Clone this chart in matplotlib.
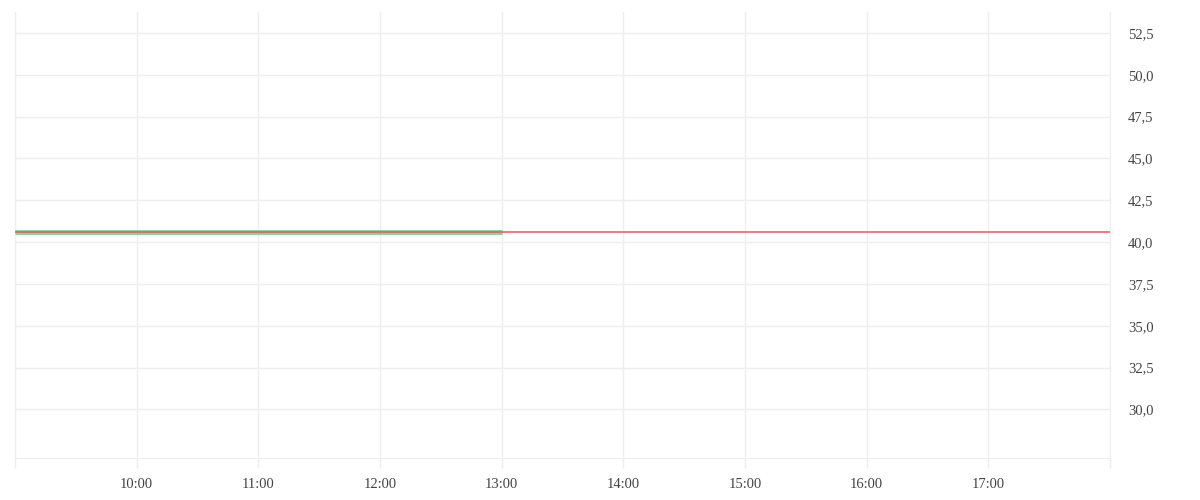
import datetime as dt

import matplotlib
matplotlib.use('Agg')
import matplotlib.dates as mdates
import matplotlib.pyplot as plt
from matplotlib.ticker import FuncFormatter

# intraday prices (flat session so far) and previous close
times = ['09:00', '10:00', '11:00', '12:00', '13:00']
prices = [40.6, 40.6, 40.6, 40.6, 40.6]
prev_close = 40.6
session = ['09:00', '18:00']
y_ticks = [30.0, 32.5, 35.0, 37.5, 40.0, 42.5, 45.0, 47.5, 50.0, 52.5]
x_ticks = ['09:00', '10:00', '11:00', '12:00', '13:00', '14:00', '15:00', '16:00', '17:00', '18:00']


def to_dt(s):
    h, m = s.split(':')
    return dt.datetime(2024, 1, 2, int(h), int(m))


plt.rcParams['font.family'] = ['Liberation Serif', 'DejaVu Serif']
grid_col = '#eeeeee'
text_col = '#444444'

fig = plt.figure(figsize=(12, 5), dpi=100)
ax = fig.add_axes([15 / 1200, 42 / 500, 1095 / 1200, 446 / 500])

ax.plot([to_dt(t) for t in times], prices, color='#62c77a', alpha=0.75, linewidth=3.6,
        solid_capstyle='butt', zorder=3)
ax.axhline(prev_close, color='#f2535c', linewidth=1.1, zorder=4)

ax.set_xlim(to_dt(session[0]), to_dt(session[1]))
ax.set_ylim(27.1, 53.75)

ax.set_xticks([to_dt(t) for t in x_ticks])
ax.xaxis.set_major_formatter(FuncFormatter(
    lambda v, p: '' if mdates.num2date(v).hour in (9, 18) else mdates.num2date(v).strftime('%H:%M')))
ax.set_yticks(y_ticks)
ax.yaxis.set_major_formatter(FuncFormatter(lambda v, p: f'{v:.1f}'.replace('.', ',')))
ax.yaxis.tick_right()

ax.grid(True, color=grid_col, linewidth=1)
ax.set_axisbelow(True)
for side in ['left', 'right', 'bottom']:
    ax.spines[side].set_color(grid_col)
ax.spines['top'].set_visible(False)

ax.tick_params(axis='x', length=7.5, width=1, color=grid_col, pad=7, labelsize=10.5, labelcolor=text_col)
ax.tick_params(axis='y', length=0, pad=13, labelsize=10.5, labelcolor=text_col)

fig.savefig('out.png', dpi=100)
